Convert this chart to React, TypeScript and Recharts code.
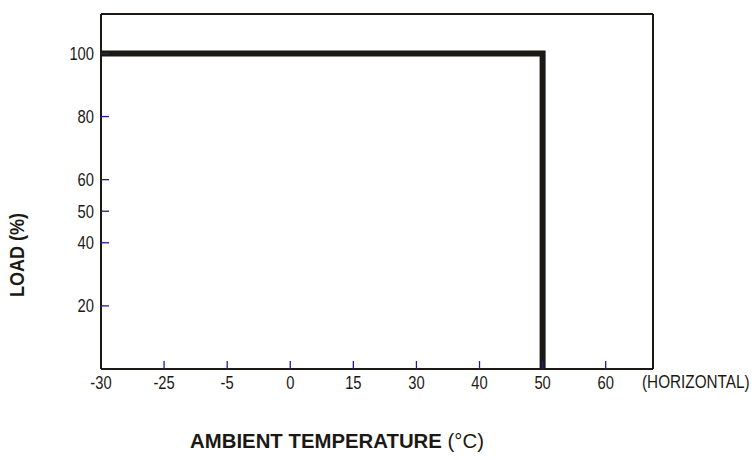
import React from 'react';
import { LineChart, Line, XAxis, YAxis, Label } from 'recharts';

// Category tick labels of the (non-linear) temperature axis
const xCategories = ['-30', '-25', '-5', '0', '15', '30', '40', '50', '60'];
// Derating curve: temperature category -> load %
const curveTemps = ['-30', '50', '50'];
const curveLoads = [100, 100, 0];
// Y tick values
const yTickValues = [20, 40, 50, 60, 80, 100];
const rightTickValues = [20, 40, 60, 80, 100];
const xDomainMax = 8.75;
const yDomainMax = 112.5;

const data = curveTemps.map((t, i) => ({ x: xCategories.indexOf(t), load: curveLoads[i] }));
const xTickIdx = xCategories.map((_, i) => i);

const INK = '#1c1915';
const TICK = '#1e1e96';
const FONT = '"Liberation Sans", Arial, sans-serif';

const XTick = (props: any) => {
  const { x, y, payload } = props;
  const v = payload.value;
  return (
    <g>
      {v !== 0 && <line x1={x} y1={y} x2={x} y2={y - 8} stroke={TICK} strokeWidth={1.3} />}
      <text
        transform={`translate(${x},${y + 19.5}) scale(0.82,1)`}
        textAnchor="middle"
        fontFamily={FONT}
        fontSize={18}
        fill={INK}
      >
        {xCategories[v]}
      </text>
    </g>
  );
};

const YTickLeft = (props: any) => {
  const { x, y, payload } = props;
  return (
    <g>
      <line x1={x} y1={y} x2={x + 8} y2={y} stroke={TICK} strokeWidth={1.3} />
      <text
        transform={`translate(${x - 7},${y + 6.4}) scale(0.82,1)`}
        textAnchor="end"
        fontFamily={FONT}
        fontSize={18}
        fill={INK}
      >
        {payload.value}
      </text>
    </g>
  );
};

const YTickRight = (props: any) => {
  const { x, y } = props;
  return <line x1={x} y1={y} x2={x - 8} y2={y} stroke={TICK} strokeWidth={1.3} />;
};

const TitleLabel = (props: any) => {
  const { x, y } = props.viewBox;
  return (
    <g>
      <text
        transform={`translate(${x + 236},${y + 78.7}) scale(0.97,1)`}
        textAnchor="middle"
        fontFamily={FONT}
        fontSize={21}
        fontWeight="bold"
        fill={INK}
      >
        AMBIENT TEMPERATURE <tspan fontWeight="normal">(°C)</tspan>
      </text>
      <text
        transform={`translate(${x + 541},${y + 19.2}) scale(0.85,1)`}
        textAnchor="start"
        fontFamily={FONT}
        fontSize={18}
        fill={INK}
      >
        (HORIZONTAL)
      </text>
    </g>
  );
};

const LoadLabel = (props: any) => {
  const { x, y } = props.viewBox;
  return (
    <text
      transform={`translate(${x + 23.5},${y + 241}) rotate(-90) scale(0.86,1)`}
      textAnchor="middle"
      fontFamily={FONT}
      fontSize={21}
      fontWeight="bold"
      fill={INK}
    >
      LOAD (%)
    </text>
  );
};

export default function App() {
  return (
    <div style={{ position: 'absolute', left: 0, top: 0, width: 756, height: 460, background: '#fff' }}>
      <LineChart width={756} height={460} data={data} margin={{ top: 14, right: 103, bottom: 0, left: 0 }}>
        <XAxis
          xAxisId="top"
          orientation="top"
          mirror
          type="number"
          domain={[0, xDomainMax]}
          height={10}
          ticks={[]}
          tick={false}
          tickLine={false}
          axisLine={{ stroke: INK, strokeWidth: 2 }}
        />
        <XAxis
          xAxisId="main"
          dataKey="x"
          type="number"
          domain={[0, xDomainMax]}
          ticks={xTickIdx}
          interval={0}
          height={91}
          tick={XTick}
          tickLine={false}
          tickSize={0}
          tickMargin={0}
          axisLine={{ stroke: INK, strokeWidth: 2 }}
        >
          <Label content={TitleLabel} />
        </XAxis>
        <YAxis
          yAxisId="main"
          type="number"
          width={101}
          domain={[0, yDomainMax]}
          ticks={yTickValues}
          interval={0}
          tick={YTickLeft}
          tickLine={false}
          tickSize={0}
          tickMargin={0}
          axisLine={{ stroke: INK, strokeWidth: 2 }}
        >
          <Label content={LoadLabel} />
        </YAxis>
        <YAxis
          yAxisId="right"
          orientation="right"
          mirror
          type="number"
          width={10}
          domain={[0, yDomainMax]}
          ticks={rightTickValues}
          interval={0}
          tick={YTickRight}
          tickLine={false}
          tickSize={0}
          tickMargin={0}
          axisLine={{ stroke: INK, strokeWidth: 2 }}
        />
        <Line
          xAxisId="main"
          yAxisId="main"
          dataKey="load"
          type="linear"
          stroke={INK}
          strokeWidth={6}
          strokeLinejoin="miter"
          strokeLinecap="butt"
          dot={false}
          activeDot={false}
          isAnimationActive={false}
        />
      </LineChart>
    </div>
  );
}
